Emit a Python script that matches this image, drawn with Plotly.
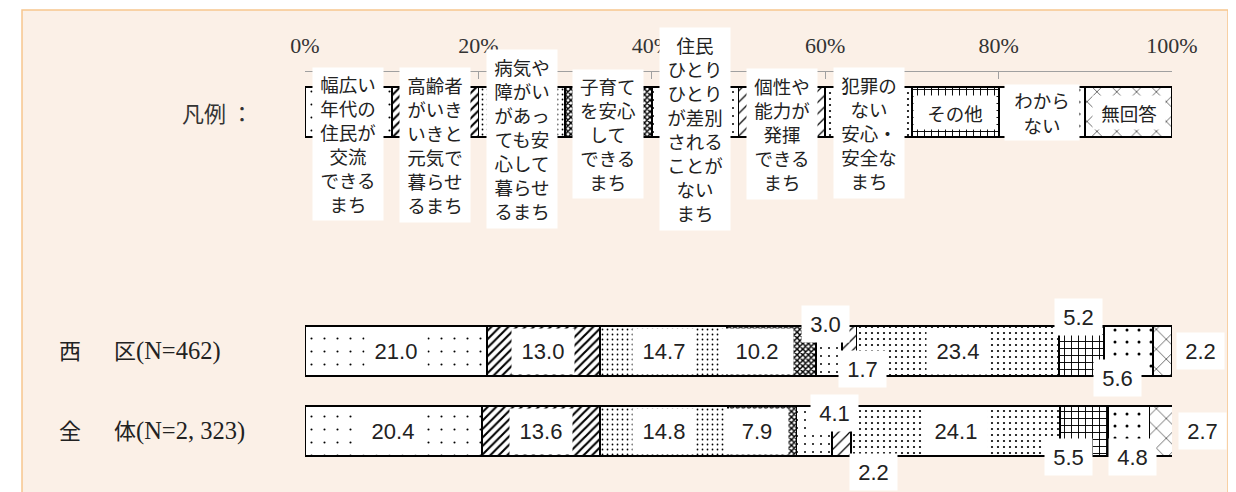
import plotly.graph_objects as go

# categories (legend labels, line-broken as in the original)
categories = [
    "幅広い<br>年代の<br>住民が<br>交流<br>できる<br>まち",
    "高齢者<br>がいき<br>いきと<br>元気で<br>暮らせ<br>るまち",
    "病気や<br>障がい<br>があっ<br>ても安<br>心して<br>暮らせ<br>るまち",
    "子育て<br>を安心<br>して<br>できる<br>まち",
    "住民<br>ひとり<br>ひとり<br>が差別<br>される<br>ことが<br>ない<br>まち",
    "個性や<br>能力が<br>発揮<br>できる<br>まち",
    "犯罪の<br>ない<br>安心・<br>安全な<br>まち",
    "その他",
    "わから<br>ない",
    "無回答",
]
row_names = ["西\u3000\u2002区", "全\u3000\u2002体"]
row_n = ["(N=462)", "(N=2, 323)"]
nishi = [21.0, 13.0, 14.7, 10.2, 3.0, 1.7, 23.4, 5.2, 5.6, 2.2]
zentai = [20.4, 13.6, 14.8, 7.9, 4.1, 2.2, 24.1, 5.5, 4.8, 2.7]
legend_share = [10] * 10
tick_vals = [0, 20, 40, 60, 80, 100]
tick_text = ["0%", "20%", "40%", "60%", "80%", "100%"]

# y positions of the rows
Y_NISHI, Y_ZENTAI, Y_LEGEND = 1, 0, 3.9875

patterns = [
    dict(shape=".", size=13, solidity=0.02),
    dict(shape="/", size=6, solidity=0.35),
    dict(shape=".", size=5, solidity=0.1),
    dict(shape="x", size=4, solidity=0.6),
    dict(shape=".", size=8, solidity=0.05),
    dict(shape="/", size=8, solidity=0.15),
    dict(shape=".", size=6, solidity=0.11),
    dict(shape="+", size=7, solidity=0.25),
    dict(shape=".", size=12, solidity=0.05),
    dict(shape="x", size=14, solidity=0.08),
]

fig = go.Figure()
for i, name in enumerate(categories):
    fig.add_trace(go.Bar(
        orientation="h",
        y=[Y_LEGEND, Y_NISHI, Y_ZENTAI],
        x=[legend_share[i], nishi[i], zentai[i]],
        width=0.625,
        name=name,
        marker=dict(
            color="white",
            line=dict(color="black", width=1.8),
            pattern=dict(fgcolor="black", bgcolor="white", fillmode="replace", **patterns[i]),
        ),
        hoverinfo="skip",
    ))

# legend label boxes: (centre y offset in px, box width, box height)
leg_boxes = [(-32, 70, 152), (-33, 70, 154), (-27, 70, 178), (-22, 70, 128),
             (-17, 70, 202), (-22, 70, 130), (-21, 70, 130), (0, 82, 33),
             (0, 74, 55), (0, 72, 33)]
annotations = []
for i, name in enumerate(categories):
    ys, w, h = leg_boxes[i]
    annotations.append(dict(
        x=sum(legend_share[:i]) + legend_share[i] / 2, y=Y_LEGEND, yshift=ys,
        text=name, showarrow=False, bgcolor="white", borderpad=0,
        width=w, height=h, align="center", valign="middle",
        font=dict(family="Noto Sans CJK JP", size=18.5, color="#222"),
    ))

# value labels: special offsets (xshift, yshift, outside)
offsets = {
    (0, 3): (-14, 0, False), (0, 4): (-3, 27, True), (0, 5): (13, -18, True),
    (0, 7): (-3, 34, True), (0, 8): (-11, -27, True), (0, 9): (38, 0, True),
    (1, 3): (-5, 0, False), (1, 4): (20, 18, True), (1, 5): (32, -41, True),
    (1, 7): (-16, -26, True), (1, 8): (4, -26, True), (1, 9): (41, 0, True),
}
for r, (vals, yv) in enumerate([(nishi, Y_NISHI), (zentai, Y_ZENTAI)]):
    cum = 0
    for i, v in enumerate(vals):
        xs, ys, outside = offsets.get((r, i), (0, 0, False))
        w, h = (47, 36) if outside else (62, 45)
        if (r, i) == (0, 3):
            w = 72
        annotations.append(dict(
            x=cum + v / 2, y=yv, xshift=xs, yshift=ys,
            text=f"{v:.1f}", showarrow=False, bgcolor="white", borderpad=0,
            width=w, height=h, valign="middle",
            font=dict(family="Liberation Sans, Arial", size=22, color="#222"),
        ))
        cum += v

for name, n, yv in zip(row_names, row_n, [Y_NISHI, Y_ZENTAI]):
    annotations.append(dict(
        xref="paper", x=-0.286, y=yv, xanchor="left", showarrow=False,
        text=f"{name}<span style='font-size:24.5px'>{n}</span>",
        font=dict(family="Liberation Serif, Noto Sans CJK JP", size=22, color="#222"),
    ))
annotations.append(dict(
    xref="paper", x=-0.144, y=Y_LEGEND, xanchor="left", text="凡例 ：", showarrow=False,
    font=dict(family="Noto Sans CJK JP", size=22, color="#333"),
))

# page body adds an 8px offset, so the figure is 8px smaller each way
fig.update_layout(
    width=1228, height=484, autosize=False,
    barmode="stack", showlegend=False,
    margin=dict(l=297, r=64, t=64, b=0),
    paper_bgcolor="white", plot_bgcolor="rgba(0,0,0,0)",
    annotations=annotations,
    shapes=[dict(
        type="rect", xref="paper", yref="paper", layer="below",
        x0=-0.3264, x1=1.0646, y0=-0.1, y1=1.1476,
        fillcolor="#FBF0E7", line=dict(color="#F7C68E", width=1.5),
    )],
)
fig.update_xaxes(
    range=[0, 100], side="top", tickvals=tick_vals, ticktext=tick_text,
    showline=True, linecolor="#A0A0A0", linewidth=1,
    ticks="inside", ticklen=7, tickcolor="#A0A0A0",
    showgrid=False, zeroline=False, ticklabelstandoff=9,
    tickfont=dict(family="Liberation Serif", size=22, color="#333"),
)
fig.update_yaxes(range=[-0.7625, 4.4875], visible=False)

fig.write_html("out.html")
